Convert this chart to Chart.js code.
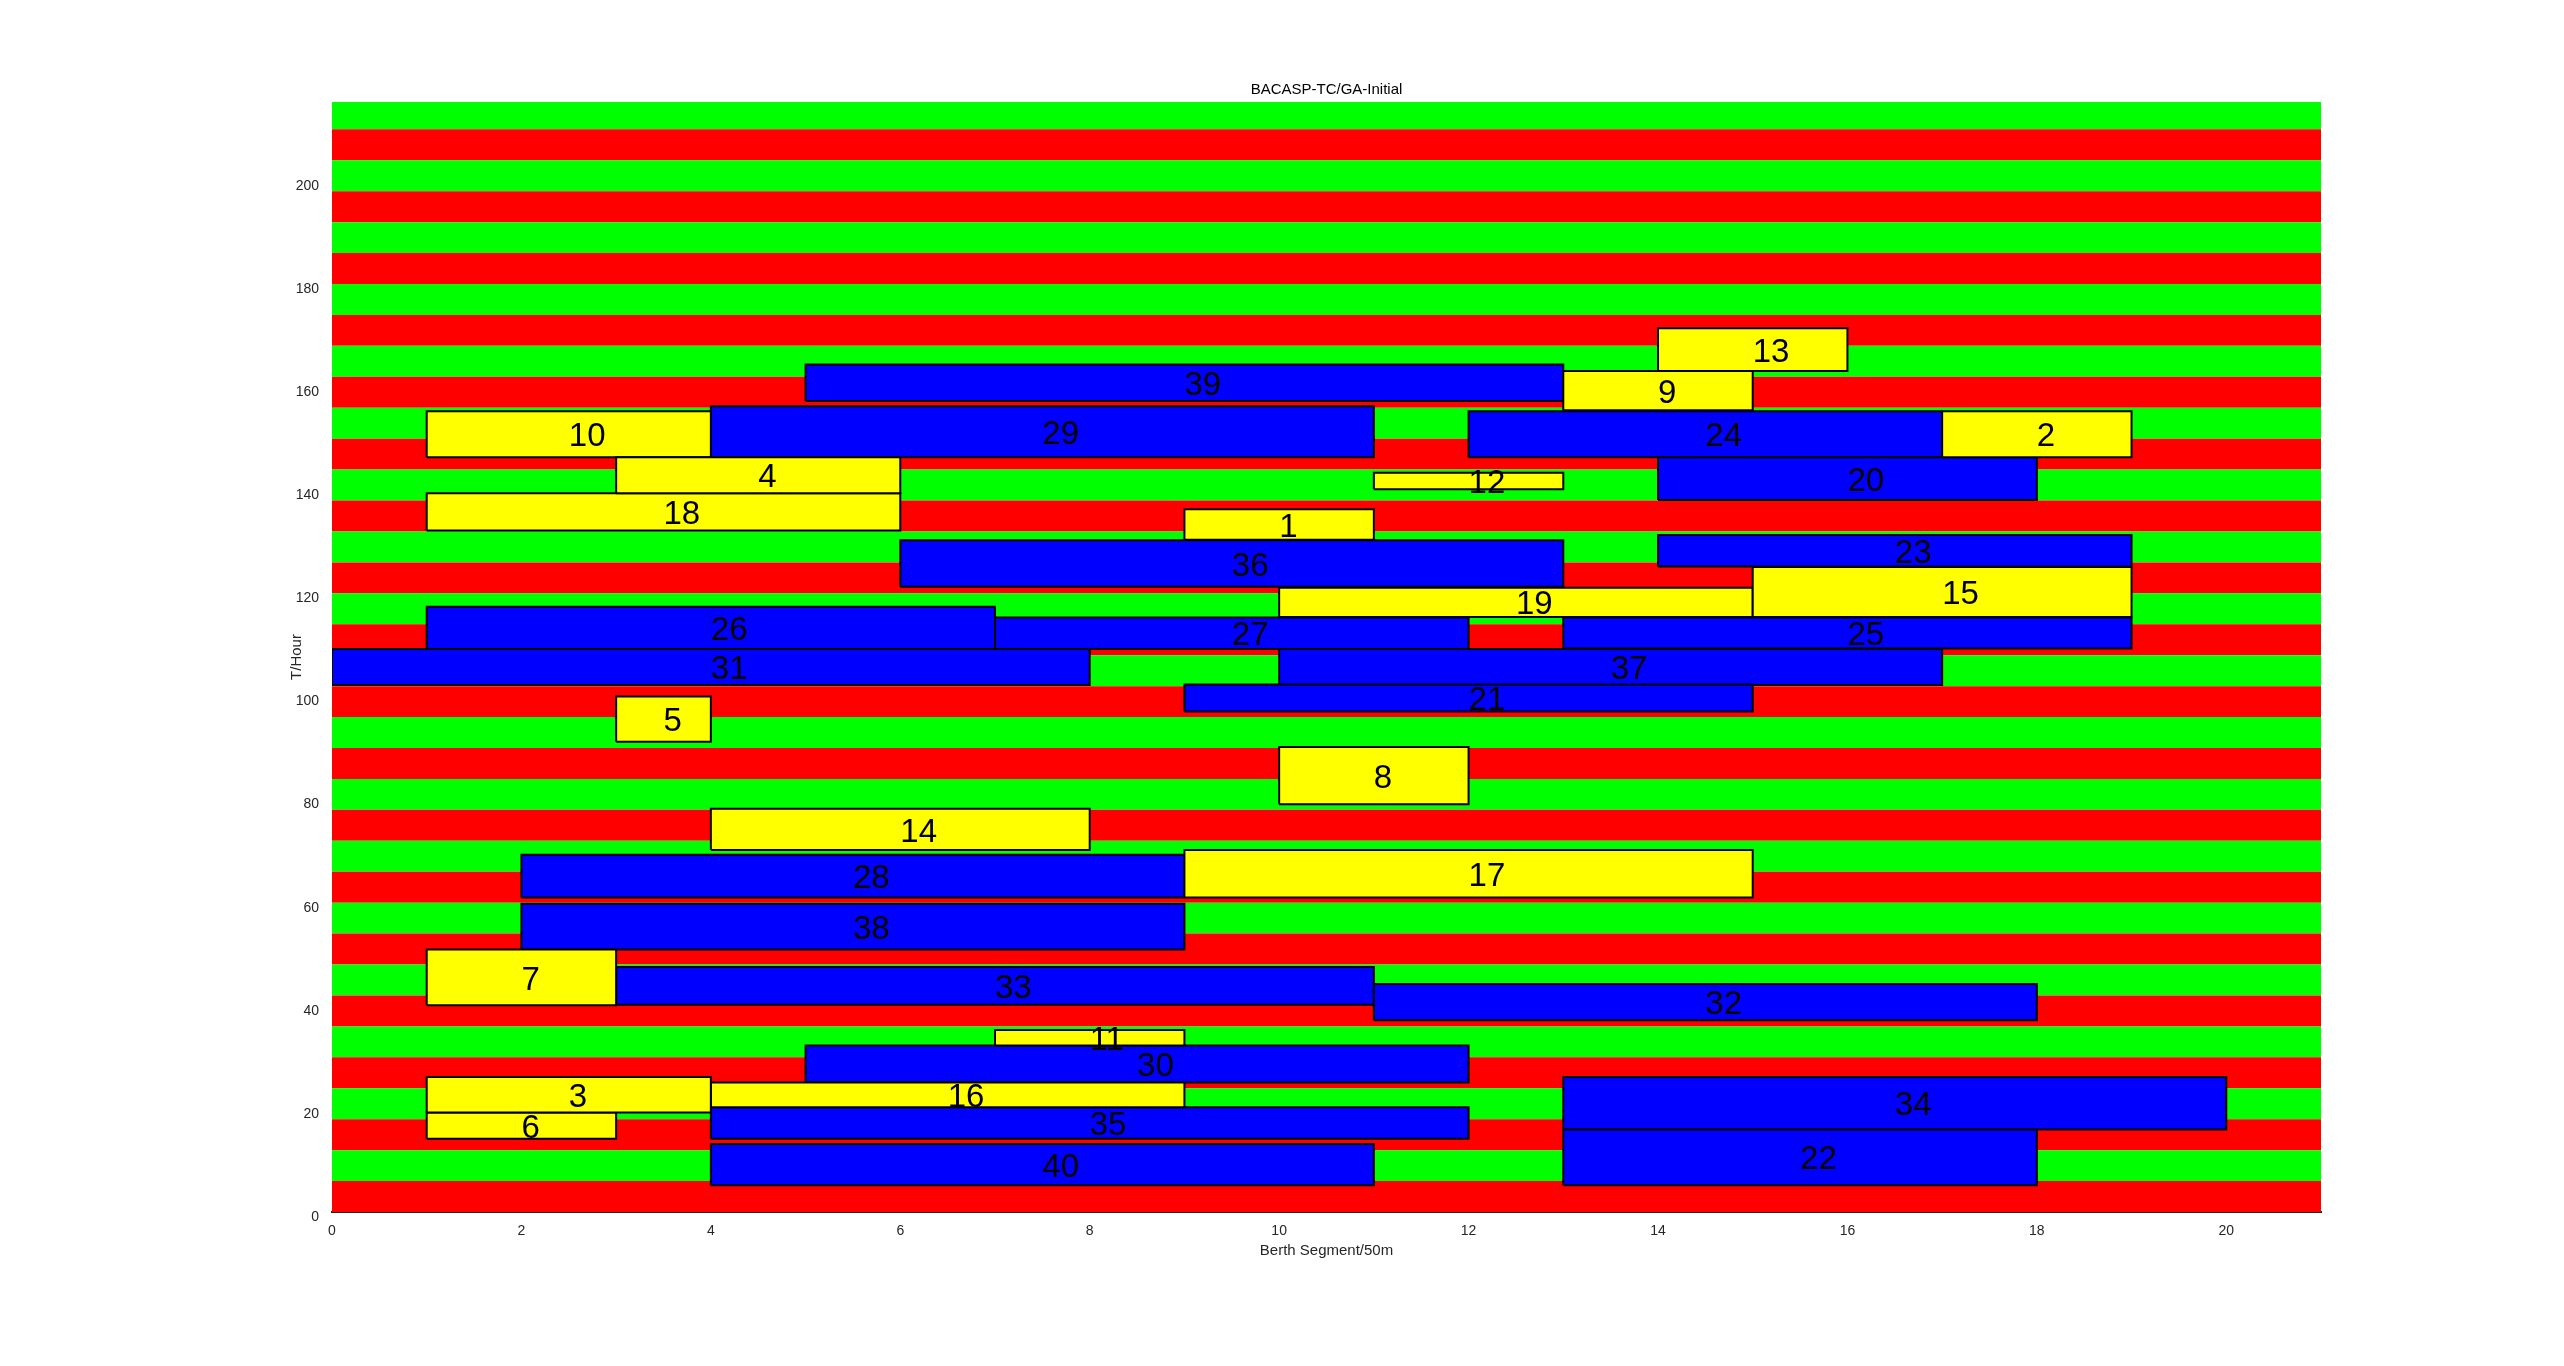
<!DOCTYPE html>
<html>
<head>
<meta charset="utf-8">
<title>BACASP-TC/GA-Initial</title>
<script src="https://cdn.jsdelivr.net/npm/chart.js@4.4.1/dist/chart.umd.min.js"></script>
<style>
  html, body { margin: 0; padding: 0; background: #fff; }
  #wrap { width: 2564px; height: 1366px; position: relative; }
</style>
</head>
<body>
<div id="wrap"><canvas id="berthChart"></canvas></div>
<script>
// Vessel number, berth segments it occupies (from / to) and its service window in hours
const vesselIds = [1, 2, 3, 4, 5, 6, 7, 8, 9, 10, 11, 12, 13, 14, 15, 16, 17, 18, 19, 20,
                   21, 22, 23, 24, 25, 26, 27, 28, 29, 30, 31, 32, 33, 34, 35, 36, 37, 38, 39, 40];
const berthFrom = [9, 17, 1, 3, 3, 1, 1, 10, 13, 1, 7, 11, 14, 4, 15, 4, 9, 1, 10, 14,
                   9, 13, 14, 12, 13, 1, 7, 2, 4, 5, 0, 11, 3, 13, 4, 6, 10, 2, 5, 4];
const berthTo = [11, 19, 4, 6, 4, 3, 3, 12, 15, 4, 9, 13, 16, 8, 19, 9, 15, 6, 15, 18,
                 15, 18, 19, 17, 19, 7, 12, 9, 11, 12, 8, 18, 11, 20, 12, 13, 17, 9, 13, 11];
const startHour = [130.4, 146.4, 19.3, 139.4, 91.2, 14.2, 40.1, 79.1, 155.5, 146.4,
                   32.3, 140.2, 163.1, 70.2, 115.4, 20.3, 61.0, 132.2, 115.4, 138.1,
                   97.1, 5.2, 125.2, 146.4, 109.3, 109.2, 109.2, 61.0, 146.4, 25.1,
                   102.2, 37.2, 40.2, 16.0, 14.2, 121.3, 102.2, 50.9, 157.3, 5.2];
const endHour = [136.3, 155.3, 26.2, 146.4, 100.0, 19.3, 50.9, 90.2, 163.1, 155.3,
                 35.3, 143.4, 171.4, 78.2, 125.1, 25.1, 70.2, 139.4, 121.1, 146.4,
                 102.3, 16.0, 131.3, 155.3, 115.3, 117.4, 115.3, 69.3, 156.3, 32.3,
                 109.2, 44.2, 47.5, 26.2, 20.3, 130.3, 109.2, 59.8, 164.4, 13.2];
// 0 = yellow vessels, 1 = blue vessels
const vesselClass = [0, 0, 0, 0, 0, 0, 0, 0, 0, 0, 0, 0, 0, 0, 0, 0, 0, 0, 0, 1,
                     1, 1, 1, 1, 1, 1, 1, 1, 1, 1, 1, 1, 1, 1, 1, 1, 1, 1, 1, 1];

const xTicks = [0, 2, 4, 6, 8, 10, 12, 14, 16, 18, 20];
const yTicks = [0, 20, 40, 60, 80, 100, 120, 140, 160, 180, 200];
const xMax = 21;
const yMax = 215.3;
const bandHours = 6;

const FONT = '"Liberation Sans", Arial, Helvetica, sans-serif';
const classColors = ['#ffff00', '#0000ff'];
const bandColors = ['#ff0000', '#00ff00'];

function rectPoints(x0, x1, y0, y1) {
    return [{x: x0, y: y0}, {x: x0, y: y1}, {x: x1, y: y1}, {x: x1, y: y0}, {x: x0, y: y0}];
}

const datasets = [];

vesselIds.forEach((id, i) => {
    datasets.push({
        label: 'Vessel ' + id,
        data: rectPoints(berthFrom[i], berthTo[i], startHour[i], endHour[i]),
        borderColor: '#000000',
        borderWidth: 2,
        backgroundColor: classColors[vesselClass[i]],
        fill: 'shape',
        pointRadius: 0,
        tension: 0,
        order: 0
    });
});

// alternating red / green time bands behind the vessels
for (let k = 0; k * bandHours < yMax; k++) {
    datasets.push({
        label: 'band',
        data: rectPoints(0, xMax, k * bandHours, (k + 1) * bandHours),
        borderColor: bandColors[k % 2],
        borderWidth: 0,
        backgroundColor: bandColors[k % 2],
        fill: 'shape',
        pointRadius: 0,
        tension: 0,
        order: 1
    });
}

// vessel numbers, left aligned at the middle of each box
const vesselLabels = {
    id: 'vesselLabels',
    afterDatasetsDraw(chart) {
        const {ctx, scales: {x, y}} = chart;
        ctx.save();
        ctx.font = '33px ' + FONT;
        ctx.fillStyle = '#000000';
        ctx.textAlign = 'left';
        ctx.textBaseline = 'middle';
        vesselIds.forEach((id, i) => {
            const cx = x.getPixelForValue((berthFrom[i] + berthTo[i]) / 2);
            const cy = y.getPixelForValue((startHour[i] + endHour[i]) / 2);
            ctx.fillText(String(id), cx, cy + 3);
        });
        ctx.restore();
    }
};

const ctx = document.getElementById('berthChart').getContext('2d');
new Chart(ctx, {
    type: 'line',
    data: { datasets: datasets },
    options: {
        responsive: true,
        maintainAspectRatio: false,
        animation: false,
        events: [],
        layout: { padding: { left: 0, right: 243, top: 0, bottom: 0 } },
        plugins: {
            legend: { display: false },
            tooltip: { enabled: false },
            title: {
                display: true,
                fullSize: false,
                text: 'BACASP-TC/GA-Initial',
                color: '#000000',
                font: { family: FONT, size: 15, weight: 'normal' },
                padding: { top: 81, bottom: 3 }
            }
        },
        scales: {
            x: {
                type: 'linear',
                min: 0,
                max: xMax,
                z: 1,
                afterBuildTicks: s => { s.ticks = xTicks.map(v => ({ value: v })); },
                afterFit: s => { s.height = 154; },
                grid: { display: false },
                border: { display: true, color: '#262626', width: 2 },
                ticks: {
                    color: '#262626',
                    font: { family: FONT, size: 14 },
                    padding: 3,
                    maxRotation: 0,
                    autoSkip: false
                },
                title: {
                    display: true,
                    text: 'Berth Segment/50m',
                    color: '#262626',
                    font: { family: FONT, size: 15 },
                    padding: { top: 0, bottom: 106 }
                }
            },
            y: {
                type: 'linear',
                min: 0,
                max: yMax,
                afterBuildTicks: s => { s.ticks = yTicks.map(v => ({ value: v })); },
                afterFit: s => { s.width = 332; },
                grid: { display: false },
                border: { display: false },
                ticks: {
                    color: '#262626',
                    font: { family: FONT, size: 14 },
                    padding: 5,
                    labelOffset: 5,
                    autoSkip: false
                },
                title: {
                    display: true,
                    text: 'T/Hour',
                    color: '#262626',
                    font: { family: FONT, size: 15 },
                    padding: { top: 288, bottom: 0 }
                }
            }
        }
    },
    plugins: [vesselLabels]
});
</script>
</body>
</html>
